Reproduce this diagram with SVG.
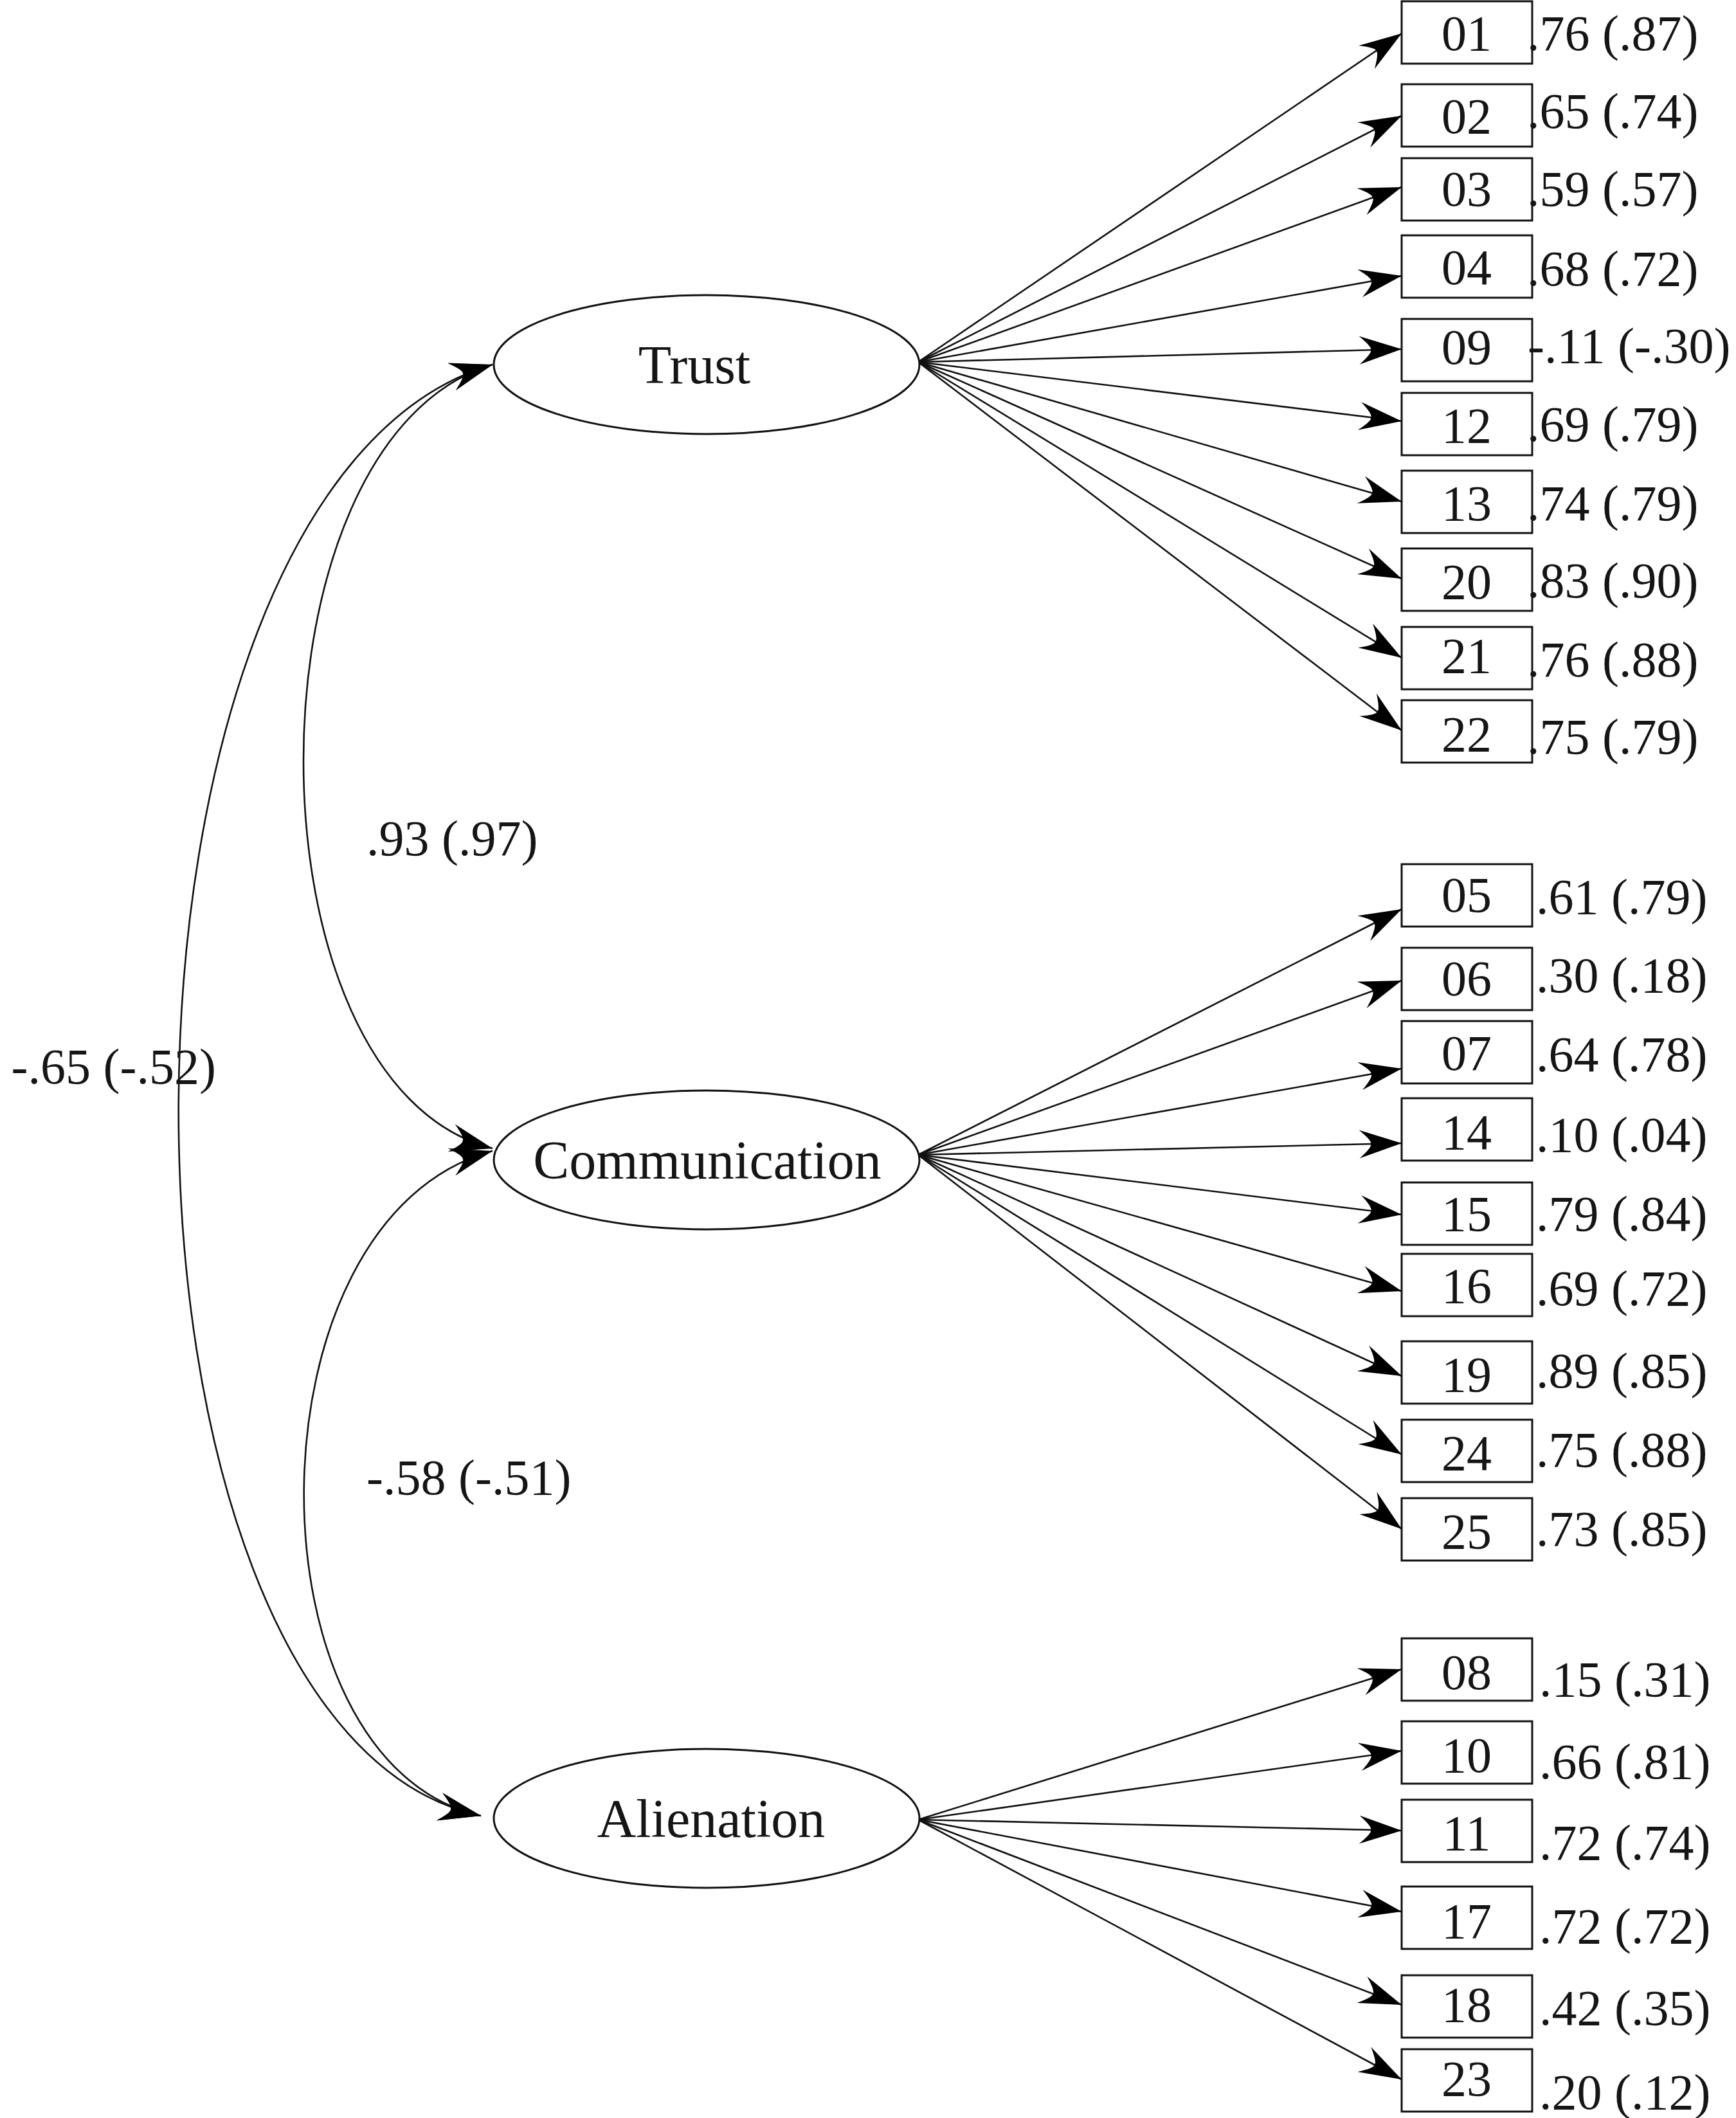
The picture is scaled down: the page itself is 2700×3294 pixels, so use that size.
<svg xmlns="http://www.w3.org/2000/svg" width="2700" height="3294" viewBox="0 0 2700 3294">
<style>
  .bg { fill: #ffffff; }
  .box { fill: #ffffff; stroke: #111111; stroke-width: 3; }
  .lat { fill: #ffffff; stroke: #111111; stroke-width: 3; }
  .edge { fill: none; stroke: #111111; stroke-width: 2.6; }
  .lab { font-family: "Liberation Serif", "DejaVu Serif", serif; font-size: 78px; fill: #151515; }
  .mid { text-anchor: middle; }
  .big { font-family: "Liberation Serif", "DejaVu Serif", serif; font-size: 84px; fill: #151515; text-anchor: middle; }
</style>
<defs>
  <marker id="ah" markerUnits="userSpaceOnUse" viewBox="-70 -26 72 52" refX="0" refY="0" markerWidth="72" markerHeight="52" orient="auto-start-reverse">
    <path d="M0,0 L-66,-22 Q-46,-5 -48,0 Q-46,5 -66,22 Z" fill="#000000"/>
  </marker>
</defs>
<rect class="bg" x="0" y="0" width="2700" height="3294"/>

<g id="connectors">
  <!-- covariances -->
  <path class="edge" d="M766,567 C374,685 374,1686 766,1786" marker-start="url(#ah)" marker-end="url(#ah)"/>
  <path class="edge" d="M766,1790 C378,1895 378,2742 748,2824" marker-start="url(#ah)" marker-end="url(#ah)"/>
  <path class="edge" d="M766,567 C118,757 118,2688 748,2824" marker-start="url(#ah)" marker-end="url(#ah)"/>
  <!-- Trust loadings -->
  <g marker-end="url(#ah)">
    <path class="edge" d="M1428,563 L2180,52"/>
    <path class="edge" d="M1428,563 L2180,180"/>
    <path class="edge" d="M1428,563 L2180,291"/>
    <path class="edge" d="M1428,563 L2180,429"/>
    <path class="edge" d="M1428,563 L2180,543"/>
    <path class="edge" d="M1428,563 L2180,655"/>
    <path class="edge" d="M1428,563 L2180,780"/>
    <path class="edge" d="M1428,563 L2180,900"/>
    <path class="edge" d="M1428,563 L2180,1023"/>
    <path class="edge" d="M1428,563 L2180,1136"/>
  </g>
  <!-- Communication loadings -->
  <g marker-end="url(#ah)">
    <path class="edge" d="M1428,1796 L2180,1414"/>
    <path class="edge" d="M1428,1796 L2180,1525"/>
    <path class="edge" d="M1428,1796 L2180,1662"/>
    <path class="edge" d="M1428,1796 L2180,1778"/>
    <path class="edge" d="M1428,1796 L2180,1889"/>
    <path class="edge" d="M1428,1796 L2180,2008"/>
    <path class="edge" d="M1428,1796 L2180,2140"/>
    <path class="edge" d="M1428,1796 L2180,2262"/>
    <path class="edge" d="M1428,1796 L2180,2378"/>
  </g>
  <!-- Alienation loadings -->
  <g marker-end="url(#ah)">
    <path class="edge" d="M1428,2830 L2180,2596"/>
    <path class="edge" d="M1428,2830 L2180,2723"/>
    <path class="edge" d="M1428,2830 L2180,2847"/>
    <path class="edge" d="M1428,2830 L2180,2973"/>
    <path class="edge" d="M1428,2830 L2180,3118"/>
    <path class="edge" d="M1428,2830 L2180,3234"/>
  </g>
</g>

<g id="covariance-labels">
  <text class="lab" x="570" y="1330">.93 (.97)</text>
  <text class="lab" x="570" y="2324">-.58 (-.51)</text>
  <text class="lab" x="336" y="1685" text-anchor="end">-.65 (-.52)</text>
</g>

<g id="node-trust">
  <ellipse class="lat" cx="1099" cy="567" rx="331" ry="108"/>
  <text class="big" x="1080" y="596">Trust</text>
</g>
<g id="node-communication">
  <ellipse class="lat" cx="1099" cy="1804" rx="331" ry="108"/>
  <text class="big" x="1100" y="1833">Communication</text>
</g>
<g id="node-alienation">
  <ellipse class="lat" cx="1099" cy="2828" rx="331" ry="108"/>
  <text class="big" x="1106" y="2857">Alienation</text>
</g>

<!-- Trust indicators -->
<g id="node-01"><rect class="box" x="2180" y="2" width="203" height="97"/><text class="lab mid" x="2281" y="78">01</text><text class="lab" x="2375" y="78">.76 (.87)</text></g>
<g id="node-02"><rect class="box" x="2180" y="131" width="203" height="97"/><text class="lab mid" x="2281" y="207">02</text><text class="lab" x="2375" y="199">.65 (.74)</text></g>
<g id="node-03"><rect class="box" x="2180" y="246" width="203" height="97"/><text class="lab mid" x="2281" y="320">03</text><text class="lab" x="2375" y="320">.59 (.57)</text></g>
<g id="node-04"><rect class="box" x="2180" y="366" width="203" height="97"/><text class="lab mid" x="2281" y="442">04</text><text class="lab" x="2375" y="444">.68 (.72)</text></g>
<g id="node-09"><rect class="box" x="2180" y="496" width="203" height="97"/><text class="lab mid" x="2281" y="566">09</text><text class="lab" x="2376" y="564">-.11 (-.30)</text></g>
<g id="node-12"><rect class="box" x="2180" y="611" width="203" height="97"/><text class="lab mid" x="2281" y="688">12</text><text class="lab" x="2375" y="686">.69 (.79)</text></g>
<g id="node-13"><rect class="box" x="2180" y="732" width="203" height="97"/><text class="lab mid" x="2281" y="809">13</text><text class="lab" x="2375" y="809">.74 (.79)</text></g>
<g id="node-20"><rect class="box" x="2180" y="853" width="203" height="97"/><text class="lab mid" x="2281" y="931">20</text><text class="lab" x="2375" y="929">.83 (.90)</text></g>
<g id="node-21"><rect class="box" x="2180" y="975" width="203" height="97"/><text class="lab mid" x="2281" y="1046">21</text><text class="lab" x="2375" y="1052">.76 (.88)</text></g>
<g id="node-22"><rect class="box" x="2180" y="1089" width="203" height="97"/><text class="lab mid" x="2281" y="1168">22</text><text class="lab" x="2375" y="1172">.75 (.79)</text></g>

<!-- Communication indicators -->
<g id="node-05"><rect class="box" x="2180" y="1344" width="203" height="97"/><text class="lab mid" x="2281" y="1418">05</text><text class="lab" x="2389" y="1421">.61 (.79)</text></g>
<g id="node-06"><rect class="box" x="2180" y="1474" width="203" height="97"/><text class="lab mid" x="2281" y="1548">06</text><text class="lab" x="2389" y="1543">.30 (.18)</text></g>
<g id="node-07"><rect class="box" x="2180" y="1588" width="203" height="97"/><text class="lab mid" x="2281" y="1664">07</text><text class="lab" x="2389" y="1666">.64 (.78)</text></g>
<g id="node-14"><rect class="box" x="2180" y="1708" width="203" height="97"/><text class="lab mid" x="2281" y="1787">14</text><text class="lab" x="2389" y="1791">.10 (.04)</text></g>
<g id="node-15"><rect class="box" x="2180" y="1839" width="203" height="97"/><text class="lab mid" x="2281" y="1914">15</text><text class="lab" x="2389" y="1914">.79 (.84)</text></g>
<g id="node-16"><rect class="box" x="2180" y="1950" width="203" height="97"/><text class="lab mid" x="2281" y="2026">16</text><text class="lab" x="2389" y="2030">.69 (.72)</text></g>
<g id="node-19"><rect class="box" x="2180" y="2086" width="203" height="97"/><text class="lab mid" x="2281" y="2164">19</text><text class="lab" x="2389" y="2158">.89 (.85)</text></g>
<g id="node-24"><rect class="box" x="2180" y="2208" width="203" height="97"/><text class="lab mid" x="2281" y="2286">24</text><text class="lab" x="2389" y="2281">.75 (.88)</text></g>
<g id="node-25"><rect class="box" x="2180" y="2330" width="203" height="97"/><text class="lab mid" x="2281" y="2408">25</text><text class="lab" x="2389" y="2404">.73 (.85)</text></g>

<!-- Alienation indicators -->
<g id="node-08"><rect class="box" x="2180" y="2548" width="203" height="97"/><text class="lab mid" x="2281" y="2627">08</text><text class="lab" x="2394" y="2638">.15 (.31)</text></g>
<g id="node-10"><rect class="box" x="2180" y="2677" width="203" height="97"/><text class="lab mid" x="2281" y="2756">10</text><text class="lab" x="2394" y="2766">.66 (.81)</text></g>
<g id="node-11"><rect class="box" x="2180" y="2799" width="203" height="97"/><text class="lab mid" x="2281" y="2877">11</text><text class="lab" x="2394" y="2892">.72 (.74)</text></g>
<g id="node-17"><rect class="box" x="2180" y="2934" width="203" height="97"/><text class="lab mid" x="2281" y="3014">17</text><text class="lab" x="2394" y="3022">.72 (.72)</text></g>
<g id="node-18"><rect class="box" x="2180" y="3072" width="203" height="97"/><text class="lab mid" x="2281" y="3144">18</text><text class="lab" x="2394" y="3149">.42 (.35)</text></g>
<g id="node-23"><rect class="box" x="2180" y="3187" width="203" height="97"/><text class="lab mid" x="2281" y="3259">23</text><text class="lab" x="2394" y="3280">.20 (.12)</text></g>
</svg>
